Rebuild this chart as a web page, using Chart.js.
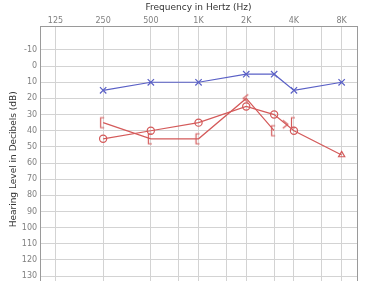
<!DOCTYPE html>
<html>
<head>
<meta charset="utf-8">
<script src="https://cdn.jsdelivr.net/npm/chart.js@4/dist/chart.umd.min.js"></script>
<style>
html,body{margin:0;padding:0;background:#fff;overflow:hidden;width:365px;height:281px;}
canvas{display:block;}
</style>
</head>
<body>
<canvas id="c" width="365" height="300"></canvas>
<script>
// Frequencies (Hz) and tick labels
const tickFreqs = [125, 250, 500, 750, 1000, 1500, 2000, 3000, 4000, 6000, 8000];
const tickLabels = {125:'125', 250:'250', 500:'500', 1000:'1K', 2000:'2K', 4000:'4K', 8000:'8K'};
const dbTicks = [-10, 0, 10, 20, 30, 40, 50, 60, 70, 80, 90, 100, 110, 120, 130, 140];

// Left ear air conduction (X, blue)
const leftAirFreq = [250, 500, 1000, 2000, 3000, 4000, 8000];
const leftAirDb   = [15, 10, 10, 5, 5, 15, 10];

// Right ear air conduction (O, red; triangle at 8K)
const rightAirFreq = [250, 500, 1000, 2000, 3000, 4000, 8000];
const rightAirDb   = [45, 40, 35, 25, 30, 40, 55];

// Right ear bone conduction ([ masked, < unmasked)
const rightBoneFreq = [250, 500, 1000, 2000, 3000];
const rightBoneDb   = [35, 45, 45, 20, 40];
const rightBoneSym  = ['[', '[', '[', '<', '['];

// Extra unconnected marks
const extraFreq = [3500, 4000];
const extraDb   = [36, 35];
const extraSym  = ['>', '['];

const BLUE = '#5a60c6';
const RED = '#d45a5a';

function glyph(sym, color) {
  const c = document.createElement('canvas');
  c.width = 12; c.height = 14;
  const g = c.getContext('2d');
  g.strokeStyle = color; g.lineWidth = 1.2; g.lineCap = 'butt';
  g.beginPath();
  if (sym === '[') {
    g.moveTo(7, 2); g.lineTo(3.5, 2); g.lineTo(3.5, 12); g.lineTo(7, 12);
  } else if (sym === '<') {
    g.moveTo(8, 3); g.lineTo(3, 7); g.lineTo(8, 11);
  } else if (sym === '>') {
    g.moveTo(4, 3); g.lineTo(9, 7); g.lineTo(4, 11);
  }
  g.stroke();
  return c;
}

const toPts = (fs, ds) => fs.map((f, i) => ({x: f, y: ds[i]}));

const borderPlugin = {
  id: 'borderPlugin',
  afterDraw(chart) {
    const a = chart.chartArea, ctx = chart.ctx;
    ctx.save();
    ctx.strokeStyle = '#9a9a9a';
    ctx.lineWidth = 1;
    ctx.beginPath();
    ctx.moveTo(Math.round(a.right) + 0.5, a.top);
    ctx.lineTo(Math.round(a.right) + 0.5, a.bottom);
    ctx.stroke();
    ctx.restore();
  }
};

new Chart(document.getElementById('c'), {
  type: 'line',
  data: {
    datasets: [
      {
        data: toPts(leftAirFreq, leftAirDb),
        borderColor: BLUE, backgroundColor: BLUE, borderWidth: 1.2,
        pointStyle: 'crossRot', pointRadius: 4.5, pointBorderWidth: 1.2,
        pointBorderColor: BLUE, fill: false
      },
      {
        data: toPts(rightAirFreq, rightAirDb),
        borderColor: RED, borderWidth: 1.2,
        pointStyle: rightAirFreq.map((f, i) => i === rightAirFreq.length - 1 ? 'triangle' : 'circle'),
        pointRadius: 3.6, pointBorderWidth: 1.2, pointBorderColor: RED,
        pointBackgroundColor: 'rgba(255,255,255,0)', fill: false
      },
      {
        data: toPts(rightBoneFreq, rightBoneDb),
        borderColor: RED, borderWidth: 1.2,
        pointStyle: rightBoneSym.map(s => glyph(s, RED)),
        fill: false
      },
      {
        data: toPts(extraFreq, extraDb),
        showLine: false, borderColor: RED,
        pointStyle: extraSym.map(s => glyph(s, RED))
      }
    ]
  },
  options: {
    responsive: false,
    animation: false,
    devicePixelRatio: 1,
    layout: {padding: {left: 8, right: 8, top: 2, bottom: 0}},
    plugins: {legend: {display: false}, tooltip: {enabled: false}},
    scales: {
      x: {
        type: 'logarithmic',
        position: 'top',
        min: 100, max: 10000,
        afterBuildTicks: s => { s.ticks = tickFreqs.map(v => ({value: v})); },
        ticks: {
          autoSkip: false, maxRotation: 0, minRotation: 0,
          font: {family: 'DejaVu Sans', size: 8}, color: '#808080', padding: 1,
          callback: v => tickLabels[v] || ''
        },
        grid: {color: '#d3d3d3', drawTicks: false, lineWidth: 1},
        border: {color: '#9a9a9a'},
        title: {display: true, text: 'Frequency in Hertz (Hz)', font: {family: 'DejaVu Sans', size: 9}, color: '#333', padding: {top: 0, bottom: 2}}
      },
      y: {
        reverse: true,
        min: -24.6, max: 140,
        afterBuildTicks: s => { s.ticks = dbTicks.map(v => ({value: v})); },
        ticks: {font: {family: 'DejaVu Sans', size: 8}, color: '#808080', padding: 3, autoSkip: false},
        grid: {color: '#d3d3d3', drawTicks: false, lineWidth: 1},
        border: {color: '#9a9a9a'},
        title: {display: true, text: 'Hearing Level in Decibels (dB)', font: {family: 'DejaVu Sans', size: 9}, color: '#333', padding: {top: 0, bottom: 0}}
      }
    }
  },
  plugins: [borderPlugin]
});
</script>
</body>
</html>
